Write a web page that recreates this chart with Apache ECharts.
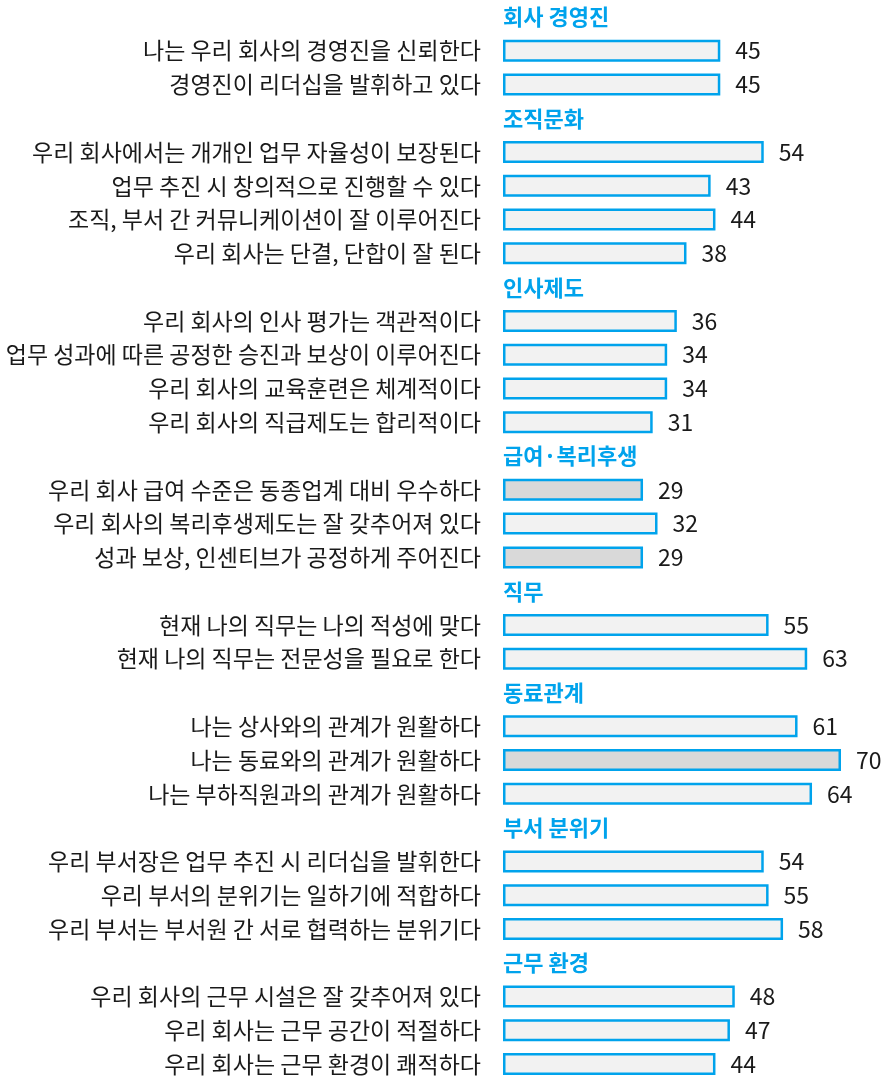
<!DOCTYPE html>
<html>
<head>
<meta charset="utf-8">
<script src="https://cdn.jsdelivr.net/npm/echarts@6/dist/echarts.min.js"></script>
<style>
  html, body { margin: 0; padding: 0; background: #fff; }
  #chart { width: 885px; height: 1081px; }
</style>
</head>
<body>
<div id="chart"></div>
<script>
const groupNames = ['회사 경영진', '조직문화', '인사제도', '급여·복리후생', '직무', '동료관계', '부서 분위기', '근무 환경']

const groupItems = [
  ['나는 우리 회사의 경영진을 신뢰한다', '경영진이 리더십을 발휘하고 있다'],
  ['우리 회사에서는 개개인 업무 자율성이 보장된다', '업무 추진 시 창의적으로 진행할 수 있다', '조직, 부서 간 커뮤니케이션이 잘 이루어진다', '우리 회사는 단결, 단합이 잘 된다'],
  ['우리 회사의 인사 평가는 객관적이다', '업무 성과에 따른 공정한 승진과 보상이 이루어진다', '우리 회사의 교육훈련은 체계적이다', '우리 회사의 직급제도는 합리적이다'],
  ['우리 회사 급여 수준은 동종업계 대비 우수하다', '우리 회사의 복리후생제도는 잘 갖추어져 있다', '성과 보상, 인센티브가 공정하게 주어진다'],
  ['현재 나의 직무는 나의 적성에 맞다', '현재 나의 직무는 전문성을 필요로 한다'],
  ['나는 상사와의 관계가 원활하다', '나는 동료와의 관계가 원활하다', '나는 부하직원과의 관계가 원활하다'],
  ['우리 부서장은 업무 추진 시 리더십을 발휘한다', '우리 부서의 분위기는 일하기에 적합하다', '우리 부서는 부서원 간 서로 협력하는 분위기다'],
  ['우리 회사의 근무 시설은 잘 갖추어져 있다', '우리 회사는 근무 공간이 적절하다', '우리 회사는 근무 환경이 쾌적하다']
]

const groupValues = [
  [45, 45],
  [54, 43, 44, 38],
  [36, 34, 34, 31],
  [29, 32, 29],
  [55, 63],
  [61, 70, 64],
  [54, 55, 58],
  [48, 47, 44]
]

// 최저/최고 항목은 회색으로 강조
const highlighted = ['우리 회사 급여 수준은 동종업계 대비 우수하다', '성과 보상, 인센티브가 공정하게 주어진다', '나는 동료와의 관계가 원활하다']

const blue = '#00a3ec'

// 그룹 제목 행과 항목 행을 하나의 카테고리 축으로 펼침
const categories = []
const barData = []
const headerData = []
groupNames.forEach((g, gi) => {
  categories.push('#' + g)
  barData.push('-')
  headerData.push({ value: 0, name: g })
  groupItems[gi].forEach((item, ii) => {
    categories.push(item)
    const v = groupValues[gi][ii]
    barData.push({
      value: v,
      itemStyle: { color: highlighted.includes(item) ? '#d9d9d9' : '#f2f2f2' }
    })
    headerData.push('-')
  })
})

const chart = echarts.init(document.getElementById('chart'))
chart.setOption({
  animation: false,
  textStyle: { fontFamily: '"Noto Sans CJK KR", "Noto Sans", sans-serif' },
  grid: { left: 503, top: 0, width: 338, height: 1085 },
  xAxis: {
    type: 'value',
    min: 0,
    max: 70,
    show: false
  },
  yAxis: {
    type: 'category',
    inverse: true,
    data: categories,
    axisLine: { show: false },
    axisTick: { show: false },
    axisLabel: {
      margin: 22,
      fontSize: 23,
      color: '#1a1a1a',
      formatter: (v) => (v.startsWith('#') ? '' : v)
    }
  },
  series: [
    {
      type: 'bar',
      data: barData,
      barWidth: 22,
      itemStyle: { borderColor: blue, borderWidth: 2.5 },
      label: {
        show: true,
        position: 'right',
        distance: 15,
        fontSize: 23,
        color: '#1a1a1a'
      }
    },
    {
      type: 'bar',
      data: headerData,
      barWidth: 22,
      barGap: '-100%',
      silent: true,
      label: {
        show: true,
        position: 'right',
        distance: 0,
        fontSize: 22,
        fontWeight: 'bold',
        color: blue,
        formatter: (p) => p.name
      }
    }
  ]
})
</script>
</body>
</html>
